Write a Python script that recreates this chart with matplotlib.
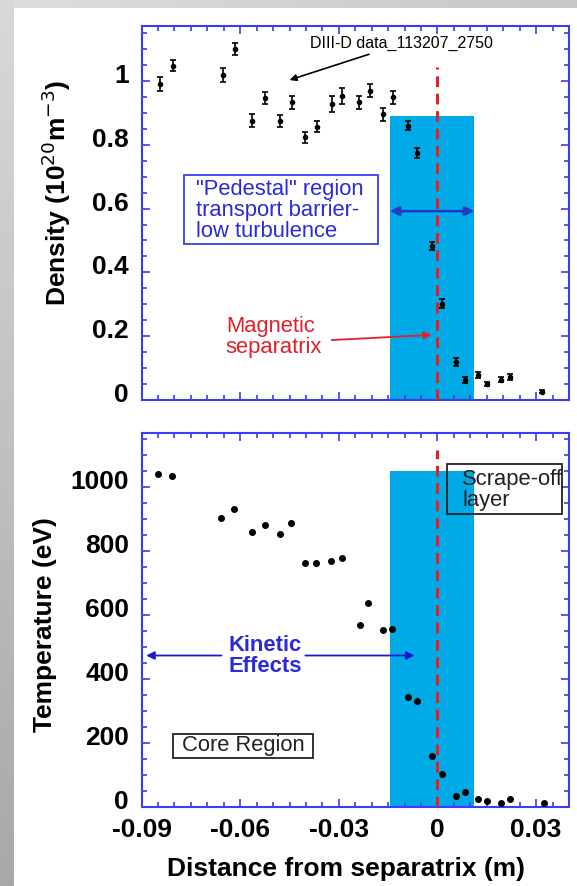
import numpy as np
import matplotlib
matplotlib.use("Agg")
import matplotlib.pyplot as plt
from matplotlib.patches import Rectangle
from matplotlib.ticker import MultipleLocator, FixedLocator, FuncFormatter
from matplotlib.transforms import ScaledTranslation

plt.rcParams['font.family'] = ['Liberation Sans', 'DejaVu Sans']

# density profile, DIII-D 113207 @ 2750 ms (10^20 m^-3)
ne_r = [-0.0843, -0.0804, -0.0651, -0.0617, -0.0563, -0.0524, -0.0479, -0.0443, -0.0403,
        -0.0367, -0.0322, -0.0289, -0.0238, -0.0205, -0.0166, -0.0134, -0.0090, -0.0062,
        -0.0017, 0.0013, 0.0056, 0.0084, 0.0122, 0.0150, 0.0193, 0.0221, 0.0319]
ne = [0.99, 1.048, 1.019, 1.10, 0.875, 0.947, 0.875, 0.933, 0.823,
      0.857, 0.928, 0.954, 0.933, 0.970, 0.896, 0.949, 0.860, 0.774,
      0.482, 0.302, 0.120, 0.063, 0.079, 0.050, 0.063, 0.073, 0.026]
ne_err = [0.022, 0.018, 0.022, 0.02, 0.02, 0.018, 0.018, 0.02, 0.018,
          0.018, 0.025, 0.025, 0.02, 0.02, 0.02, 0.02, 0.015, 0.015,
          0.012, 0.015, 0.012, 0.01, 0.01, 0.006, 0.008, 0.01, 0.005]

# temperature profile (eV)
te_r = [-0.0850, -0.0807, -0.0657, -0.0620, -0.0564, -0.0525, -0.0480, -0.0446, -0.0403,
        -0.0370, -0.0325, -0.0291, -0.0236, -0.0211, -0.0166, -0.0138, -0.0090, -0.0062,
        -0.0017, 0.0013, 0.0055, 0.0084, 0.0122, 0.0150, 0.0193, 0.0221, 0.0325]
te = [1042, 1036, 904, 932, 859, 882, 854, 888, 762,
      762, 769, 779, 569, 637, 552, 555, 342, 331,
      159, 102, 34, 47, 24, 18, 12, 24, 12]

# pedestal region and separatrix
ped_left, ped_right = -0.0145, 0.0112
ped_top_ne, ped_top_te = 0.890, 1050
sep_r = 0.0
sep_top_ne, sep_top_te = 1.044, 1115

xticks = [-0.09, -0.06, -0.03, 0, 0.03]

spine_col = '#3c3cf0'
ped_col = '#00aae6'
red = '#e0202a'
blue_txt = '#2a2ad8'

fig = plt.figure(figsize=(5.77, 8.86), dpi=100)
fig.patch.set_facecolor('white')

# gray frame of the slide
bg = fig.add_axes([0, 0, 1, 1], zorder=-5)
img = np.ones((886, 577, 3))
img[:8, :, :] = np.linspace(0.87, 0.78, 577)[None, :, None]
img[:, :14, :] = np.linspace(0.85, 0.66, 886)[:, None, None]
bg.imshow(img, aspect='auto', extent=[0, 1, 0, 1])
bg.axis('off')

ax1 = fig.add_axes([0.2454, 0.5485, 0.7407, 0.4221])
ax2 = fig.add_axes([0.2454, 0.0895, 0.7407, 0.4221])


def style(ax):
    for s in ax.spines.values():
        s.set_color(spine_col)
        s.set_linewidth(1.5)
    ax.xaxis.set_major_locator(FixedLocator(xticks))
    ax.xaxis.set_minor_locator(MultipleLocator(0.005))
    ax.xaxis.set_major_formatter(FuncFormatter(lambda v, p: '0' if abs(v) < 1e-9 else f'{v:g}'))
    ax.tick_params(which='both', direction='in', top=True, right=True, color=spine_col, width=1.2)
    ax.tick_params(which='major', length=6, labelsize=19, pad=8)
    ax.tick_params(axis='y', which='major', pad=9)
    ax.tick_params(which='minor', length=3.5)
    ax.set_xlim(-0.09, 0.040)
    # IDL-style labels sit a little above their ticks
    up = ScaledTranslation(0, 0.075, fig.dpi_scale_trans)
    for t in ax.yaxis.get_major_ticks():
        t.label1.set_transform(t.label1.get_transform() + up)
    for lab in ax.get_xticklabels() + ax.get_yticklabels():
        lab.set_fontweight('bold')


# ---- density panel
ax1.add_patch(Rectangle((ped_left, 0), ped_right - ped_left, ped_top_ne,
                        facecolor=ped_col, edgecolor='none', zorder=1))
ax1.vlines(sep_r, 0, sep_top_ne, colors=red, linestyles=(0, (3.5, 2.2)), linewidth=2.2, zorder=3)
ax1.errorbar(ne_r, ne, yerr=ne_err, fmt='o', color='black', ms=3, capsize=2.5,
             elinewidth=1.2, capthick=1.2, zorder=4)
ax1.set_ylim(0, 1.172)
ax1.yaxis.set_major_locator(MultipleLocator(0.2))
ax1.yaxis.set_minor_locator(MultipleLocator(0.05))
ax1.yaxis.set_major_formatter(FuncFormatter(lambda v, p: f'{v:g}'))
style(ax1)
ax1.tick_params(axis='x', labelbottom=False)
ax1.set_ylabel('Density (10$^{20}$m$^{-3}$)', fontsize=19, fontweight='bold')
ax1.yaxis.set_label_coords(-0.16, 0.553)

ax1.annotate('DIII-D data_113207_2750', xy=(-0.0450, 1.003), xytext=(-0.0389, 1.116),
             fontsize=11.5, va='center', ha='left',
             arrowprops=dict(arrowstyle='-|>', color='black', lw=1.2, mutation_scale=10,
                             shrinkA=0, shrinkB=0))
ax1.add_patch(Rectangle((-0.0771, 0.489), 0.0591, 0.216, facecolor='white',
                        edgecolor=spine_col, lw=1.3, zorder=2))
ax1.text(-0.0736, 0.594, '"Pedestal" region\ntransport barrier-\nlow turbulence',
         color=blue_txt, fontsize=15.8, linespacing=1.02, va='center', ha='left', zorder=3)
ax1.annotate('', xy=(ped_left, 0.592), xytext=(ped_right, 0.592),
             arrowprops=dict(arrowstyle='<|-|>', color='#1a3acc', lw=1.8, mutation_scale=14,
                             shrinkA=0, shrinkB=0))
ax1.text(-0.0644, 0.196, 'Magnetic\nseparatrix', color=red, fontsize=15.8, linespacing=1.0,
         va='center', ha='left')
ax1.annotate('', xy=(-0.0018, 0.204), xytext=(-0.0322, 0.188),
             arrowprops=dict(arrowstyle='-|>', color=red, lw=1.3, mutation_scale=11,
                             shrinkA=0, shrinkB=0))

# ---- temperature panel
ax2.add_patch(Rectangle((ped_left, 0), ped_right - ped_left, ped_top_te,
                        facecolor=ped_col, edgecolor='none', zorder=1))
ax2.vlines(sep_r, 0, sep_top_te, colors=red, linestyles=(0, (3.5, 2.2)), linewidth=2.2, zorder=3)
ax2.plot(te_r, te, 'o', color='black', ms=4, zorder=4)
ax2.set_ylim(0, 1170)
ax2.yaxis.set_major_locator(MultipleLocator(200))
ax2.yaxis.set_minor_locator(MultipleLocator(50))
style(ax2)
ax2.set_ylabel('Temperature (eV)', fontsize=19, fontweight='bold')
ax2.yaxis.set_label_coords(-0.198, 0.486)
ax2.set_xlabel('Distance from separatrix (m)', fontsize=19, fontweight='bold')
ax2.xaxis.set_label_coords(0.478, -0.135)

ax2.add_patch(Rectangle((0.0030, 917), 0.0350, 156, facecolor='none', edgecolor='#222222',
                        lw=1.3, zorder=5))
ax2.text(0.0075, 992, 'Scrape-off\nlayer', fontsize=15.8, linespacing=1.0, va='center', ha='left',
         color='#222222', zorder=5, clip_on=True)
ax2.add_patch(Rectangle((-0.0803, 152), 0.0423, 75, facecolor='white', edgecolor='#222222',
                        lw=1.3, zorder=5))
ax2.text(-0.0592, 190, 'Core Region', fontsize=15.8, va='center', ha='center', color='#222222',
         zorder=6)
ax2.text(-0.0525, 472, 'Kinetic\nEffects', color=blue_txt, fontsize=15.8, fontweight='bold',
         linespacing=1.0, va='center', ha='center')
ax2.annotate('', xy=(-0.0886, 473), xytext=(-0.0657, 473),
             arrowprops=dict(arrowstyle='-|>', color='#1a1acc', lw=1.3, mutation_scale=12,
                             shrinkA=0, shrinkB=0))
ax2.annotate('', xy=(-0.0070, 473), xytext=(-0.0402, 473),
             arrowprops=dict(arrowstyle='-|>', color='#1a1acc', lw=1.3, mutation_scale=12,
                             shrinkA=0, shrinkB=0))

fig.savefig('out.png', dpi=100)
